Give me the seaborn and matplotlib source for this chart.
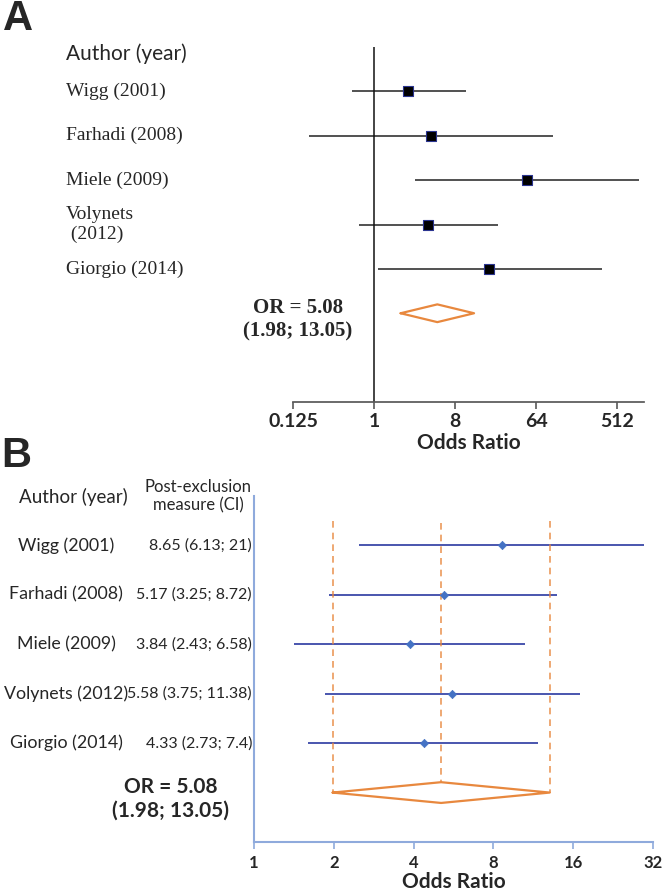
import matplotlib
matplotlib.use("Agg")
import matplotlib.pyplot as plt
import matplotlib.transforms as mtransforms
from matplotlib.ticker import NullLocator
import numpy as np
import pandas as pd
import seaborn as sns

# Panel A: odds ratios of all included studies
authors_a = ["Wigg (2001)", "Farhadi (2008)", "Miele (2009)", "Volynets\n (2012)", "Giorgio (2014)"]
or_a = [2.4, 4.3, 51, 4.0, 19]
lo_a = [0.57, 0.19, 2.9, 0.68, 1.11]
hi_a = [10.6, 99, 900, 24, 348]

# Panel B: leave-one-out (post-exclusion) estimates
authors_b = ["Wigg (2001)", "Farhadi (2008)", "Miele (2009)", "Volynets (2012)", "Giorgio (2014)"]
measure_b = ["8.65 (6.13; 21)", "5.17 (3.25; 8.72)", "3.84 (2.43; 6.58)",
             "5.58 (3.75; 11.38)", "4.33 (2.73; 7.4)"]
or_b = [8.65, 5.19, 3.87, 5.6, 4.37]
lo_b = [2.5, 1.92, 1.41, 1.85, 1.6]
hi_b = [29.6, 13.9, 10.5, 17, 11.8]

# pooled estimate
pooled_or = 5.08
pooled_lo = 1.98
pooled_hi = 13.05

ticks_a = [0.125, 1, 8, 64, 512]
ticks_b = [1, 2, 4, 8, 16, 32]

W, H = 664, 893
SERIF = "Liberation Serif"
SANS = "Lato"
ORANGE = "#E8883E"


def fx(px):
    return px / W


def fy(py):
    return 1 - py / H


def style_axis(ax, ticks, spine_color, lab_size, pad, labelpad):
    ax.set_xscale("log", base=2)
    ax.xaxis.set_minor_locator(NullLocator())
    ax.set_xticks(ticks)
    ax.set_xticklabels([f"{t:g}" for t in ticks], fontweight="bold",
                       fontsize=lab_size, family=SANS)
    ax.set_yticks([])
    for side in ["top", "right", "left"]:
        ax.spines[side].set_visible(False)
    ax.spines["bottom"].set_color(spine_color)
    ax.tick_params(axis="x", bottom=True, direction="out", length=5, width=1.2,
                   color=spine_color, pad=pad)
    ax.set_xlabel("Odds Ratio", fontweight="bold", fontsize=15, family=SANS,
                  labelpad=labelpad)
    ax.set_ylabel("")
    ax.patch.set_alpha(0)


sns.set_theme(style="white")
plt.rcParams["font.family"] = [SANS, "DejaVu Sans"]

fig = plt.figure(figsize=(W / 100, H / 100), dpi=100)
axA = fig.add_axes([fx(293), fy(402), fx(644) - fx(293), fy(47) - fy(402)])
axB = fig.add_axes([fx(254), fy(842), fx(653) - fx(254), fy(496) - fy(842)])

# ---------------- Panel A ----------------
df_a = pd.DataFrame({"row": np.arange(len(authors_a)), "or": or_a, "lo": lo_a, "hi": hi_a})
axA.hlines(df_a["row"], df_a["lo"], df_a["hi"], color="#222222", lw=1.1)
sns.scatterplot(data=df_a, x="or", y="row", marker="s", s=60, color="black",
                edgecolor="#2B3590", linewidth=0.8, ax=axA, zorder=3, legend=False)
axA.axvline(1, color="#111111", lw=1.1)
d_row = len(authors_a)
axA.plot([pooled_lo, pooled_or, pooled_hi, pooled_or, pooled_lo],
         [d_row, d_row - 0.2, d_row, d_row + 0.2, d_row], color=ORANGE, lw=1.6)
axA.set_xlim(0.125, 1024)
axA.set_ylim(7, -1)
style_axis(axA, ticks_a, "#595959", 14, pad=3, labelpad=2)

trA = mtransforms.blended_transform_factory(fig.transFigure, axA.transData)
fig.text(fx(66), -0.84, "Author (year)", transform=trA, ha="left", va="center",
         fontsize=15, family=SANS)
for i, name in enumerate(authors_a):
    fig.text(fx(66), i, name, transform=trA, ha="left", va="center",
             fontsize=14, family=SERIF)
fig.text(fx(298), 5.15, f"OR = {pooled_or:.2f}\n({pooled_lo:.2f}; {pooled_hi:.2f})",
         transform=trA, ha="center", va="center", fontsize=15, family=SERIF,
         fontweight="bold", linespacing=1.25)

# ---------------- Panel B ----------------
df_b = pd.DataFrame({"row": np.arange(len(authors_b)), "or": or_b, "lo": lo_b, "hi": hi_b})
axB.hlines(df_b["row"], df_b["lo"], df_b["hi"], color="#3A48A8", lw=1.3)
sns.scatterplot(data=df_b, x="or", y="row", marker="D", s=18, color="#4472C4",
                edgecolor="#4472C4", linewidth=0.5, ax=axB, zorder=3, legend=False)
d_row = len(authors_b)
hh = 0.21
for v in [pooled_lo, pooled_hi]:
    axB.plot([v, v], [-0.5, d_row], color=ORANGE, lw=1.2, ls=(0, (4, 3)), alpha=0.85)
axB.plot([pooled_or, pooled_or], [-0.45, d_row - hh], color=ORANGE, lw=1.2,
         ls=(0, (4, 3)), alpha=0.85)
axB.plot([pooled_lo, pooled_or, pooled_hi, pooled_or, pooled_lo],
         [d_row, d_row - hh, d_row, d_row + hh, d_row], color=ORANGE, lw=1.6)
axB.set_xlim(1, 32)
axB.set_ylim(6, -1)
style_axis(axB, ticks_b, "#8FAADC", 12, pad=4, labelpad=1)
axB.spines["left"].set_visible(True)
axB.spines["left"].set_color("#8FAADC")
axB.spines["left"].set_linewidth(1.5)
axB.spines["bottom"].set_linewidth(1.5)

trB = mtransforms.blended_transform_factory(fig.transFigure, axB.transData)
fig.text(fx(19), -0.99, "Author (year)", transform=trB, ha="left", va="center",
         fontsize=13.5, family=SANS)
fig.text(fx(198), -0.99, "Post-exclusion\nmeasure (CI)", transform=trB, ha="center",
         va="center", fontsize=12, family=SANS, linespacing=1.2)
for i, (name, meas) in enumerate(zip(authors_b, measure_b)):
    fig.text(fx(66), i, name, transform=trB, ha="center", va="center",
             fontsize=12.8, family=SANS)
    fig.text(fx(252), i, meas, transform=trB, ha="right", va="center",
             fontsize=11.5, family=SANS)
fig.text(fx(171), 5.12, f"OR = {pooled_or:.2f}\n({pooled_lo:.2f}; {pooled_hi:.2f})",
         transform=trB, ha="center", va="center", fontsize=15, family=SANS,
         fontweight="bold", linespacing=1.25)

# panel letters
fig.text(fx(3), fy(19), "A", fontsize=30, fontweight="bold", family="Liberation Sans",
         ha="left", va="center")
fig.text(fx(1), fy(456), "B", fontsize=30, fontweight="bold", family="Liberation Sans",
         ha="left", va="center")

fig.savefig("out.png", dpi=100)
